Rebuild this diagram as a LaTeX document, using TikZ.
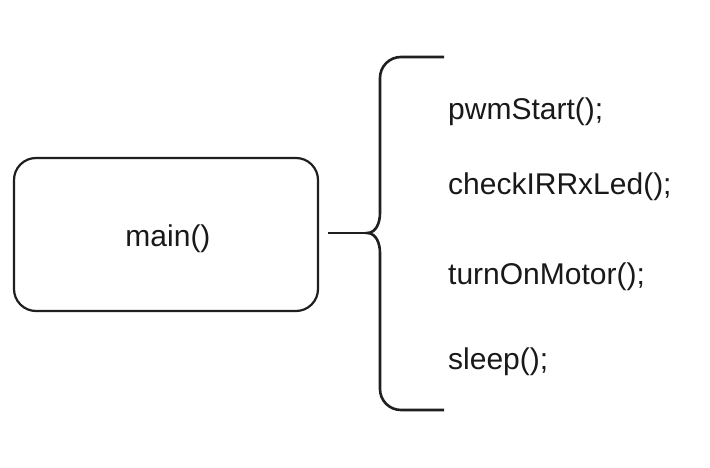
\documentclass[tikz,border=0pt]{standalone}
\usepackage{fontspec}
\setmainfont{Liberation Sans}
\begin{document}
\begin{tikzpicture}[x=1pt,y=-1pt,
  line/.style={draw=black!88, line width=2.6pt},
  mainbox/.style={draw=black!88, line width=2.2pt, rounded corners=22pt, minimum width=304pt, minimum height=153pt, inner sep=0pt},
  lbl/.style={font=\fontsize{30}{36}\selectfont, anchor=base west, inner sep=0pt, text=black!90},
]
\useasboundingbox[fill=white] (0,0) rectangle (710,468);
\node[mainbox] (m) at (166,234.5) {};
\node[font=\fontsize{30}{36}\selectfont, anchor=base, inner sep=0pt, text=black!90] (mt) at (168,246) {main()};
\coordinate (c1) at (328,233);
\coordinate (tip) at (367,233);
\draw[line] (c1) -- (tip);
\draw[line, line cap=butt] (444,57) -- (401,57) to[out=180,in=90] (380,78) -- (380,213) to[out=-90,in=0] (tip)
  to[out=0,in=90] (380,253) -- (380,389) to[out=-90,in=180] (401,410) -- (444,410);
\node[lbl] (f1) at (448,120) {pwmStart();};
\node[lbl] (f2) at (448,194) {checkIRRxLed();};
\node[lbl] (f3) at (448,284) {turnOnMotor();};
\node[lbl] (f4) at (448,369) {sleep();};
\end{tikzpicture}
\end{document}
